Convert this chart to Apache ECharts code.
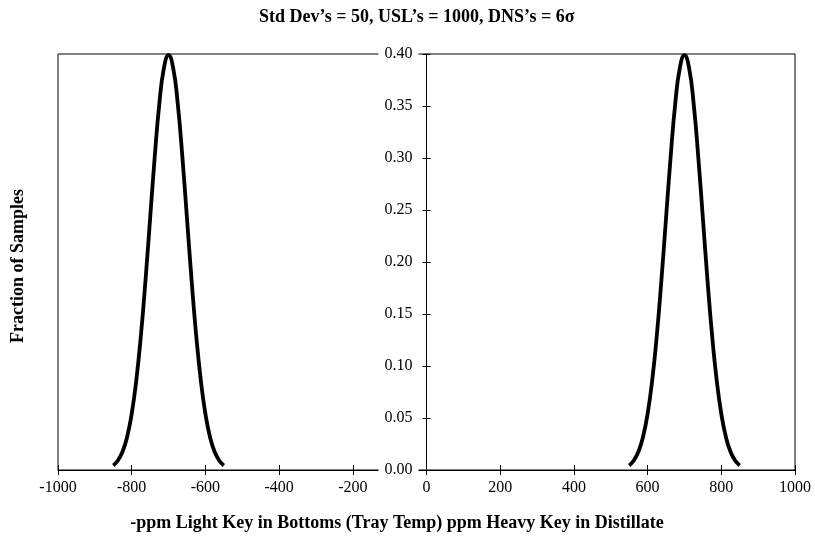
<!DOCTYPE html>
<html>
<head>
<meta charset="utf-8">
<script src="https://cdn.jsdelivr.net/npm/echarts@6/dist/echarts.min.js"></script>
<style>
  html, body { margin: 0; padding: 0; background: #fff; }
  #chart { width: 815px; height: 539px; }
</style>
</head>
<body>
<div id="chart"></div>
<script>
// Light-key side (negative ppm) and heavy-key side (positive ppm) distributions
const lightKeyPpm = [-850, -837.5, -825, -812.5, -800, -787.5, -775, -762.5, -750, -737.5, -725, -712.5, -700,
                     -687.5, -675, -662.5, -650, -637.5, -625, -612.5, -600, -587.5, -575, -562.5, -550];
const lightKeyFraction = [0.0044, 0.0091, 0.0175, 0.0317, 0.0540, 0.0863, 0.1295, 0.1826, 0.2420, 0.3011, 0.3521, 0.3867, 0.3989,
                          0.3867, 0.3521, 0.3011, 0.2420, 0.1826, 0.1295, 0.0863, 0.0540, 0.0317, 0.0175, 0.0091, 0.0044];
const heavyKeyPpm = [550, 562.5, 575, 587.5, 600, 612.5, 625, 637.5, 650, 662.5, 675, 687.5, 700,
                     712.5, 725, 737.5, 750, 762.5, 775, 787.5, 800, 812.5, 825, 837.5, 850];
const heavyKeyFraction = [0.0044, 0.0091, 0.0175, 0.0317, 0.0540, 0.0863, 0.1295, 0.1826, 0.2420, 0.3011, 0.3521, 0.3867, 0.3989,
                          0.3867, 0.3521, 0.3011, 0.2420, 0.1826, 0.1295, 0.0863, 0.0540, 0.0317, 0.0175, 0.0091, 0.0044];

const xTicks = { min: -1000, max: 1000, step: 200 };
const yTicks = { min: 0, max: 0.4, step: 0.05 };

const titleText = 'Std Dev\u2019s = 50, USL\u2019s = 1000, DNS\u2019s = 6\u03c3';
const xTitle = '-ppm Light Key in Bottoms (Tray Temp) ppm Heavy Key in Distillate';
const yTitle = 'Fraction of Samples';

const serif = '"Liberation Serif", "DejaVu Serif", serif';

function pairs(xs, ys) { return xs.map((x, i) => [x, ys[i]]); }

const chart = echarts.init(document.getElementById('chart'), null, { renderer: 'canvas' });

const baseX = {
  type: 'value', min: xTicks.min, max: xTicks.max, interval: xTicks.step,
  position: 'bottom', splitLine: { show: false }
};
const baseY = {
  type: 'value', min: yTicks.min, max: yTicks.max, interval: yTicks.step,
  splitLine: { show: false }, axisLine: { onZero: false, lineStyle: { color: '#000', width: 1 } }
};

chart.setOption({
  animation: false,
  backgroundColor: '#fff',
  title: {
    text: titleText, left: 254, top: 3,
    textStyle: { fontFamily: serif, fontWeight: 'bold', fontSize: 18, color: '#000' }
  },
  grid: {
    left: 58, right: 20, top: 54, bottom: 69,
    show: true, borderColor: '#000', borderWidth: 1, backgroundColor: 'transparent'
  },
  xAxis: [
    Object.assign({}, baseX, {
      axisLine: { show: true, onZero: false, lineStyle: { color: '#000', width: 1 } },
      axisTick: { show: true, length: 5, lineStyle: { color: '#000' } },
      axisLabel: { fontFamily: serif, fontSize: 16, color: '#000', margin: 10, formatter: v => String(v) }
    }),
    Object.assign({}, baseX, {
      axisLine: { show: false, onZero: false },
      axisTick: { show: true, inside: true, length: 5, lineStyle: { color: '#000' } },
      axisLabel: { show: false }
    })
  ],
  yAxis: [
    // value axis standing at ppm = 0, labels on its left
    Object.assign({}, baseY, {
      position: 'left', offset: 0,
      axisTick: { show: true, length: 4, lineStyle: { color: '#000' } },
      axisLabel: {
        fontFamily: serif, fontSize: 16, color: '#000', margin: 8,
        backgroundColor: '#fff', padding: [2, 6, 2, 6],
        formatter: v => v.toFixed(2)
      },
      z: 5
    }),
    // companion axis giving the ticks on the right of the zero line
    Object.assign({}, baseY, {
      position: 'right', offset: 0,
      axisLine: { show: false, onZero: false },
      axisTick: { show: true, length: 4, lineStyle: { color: '#000' } },
      axisLabel: { show: false },
      z: 6
    })
  ],
  graphic: [
    {
      type: 'text', x: 18, y: 266, rotation: Math.PI / 2,
      style: { text: yTitle, font: 'bold 18px ' + serif, fill: '#000', align: 'center', verticalAlign: 'middle' }
    },
    {
      type: 'text', x: 397, y: 523,
      style: { text: xTitle, font: 'bold 18px ' + serif, fill: '#000', align: 'center', verticalAlign: 'middle' }
    }
  ],
  series: [
    {
      type: 'line', data: pairs(lightKeyPpm, lightKeyFraction), smooth: true,
      showSymbol: false, lineStyle: { color: '#000', width: 3.8 }, z: 3
    },
    {
      type: 'line', data: pairs(heavyKeyPpm, heavyKeyFraction), smooth: true,
      showSymbol: false, lineStyle: { color: '#000', width: 3.8 }, z: 3
    }
  ]
});

// Move both y axes onto ppm = 0
const zeroX = chart.convertToPixel({ xAxisIndex: 0 }, 0);
const gridRect = chart.getModel().getComponent('grid', 0).coordinateSystem.getRect();
chart.setOption({
  yAxis: [
    { offset: gridRect.x - zeroX },
    { offset: zeroX - (gridRect.x + gridRect.width) }
  ]
});
</script>
</body>
</html>
